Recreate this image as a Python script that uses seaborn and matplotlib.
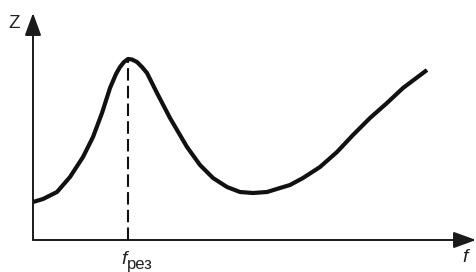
import matplotlib
matplotlib.use("Agg")
import matplotlib.pyplot as plt
import seaborn as sns
import pandas as pd

sns.set_theme(style="white")
plt.rcParams['font.family'] = ['Liberation Sans', 'DejaVu Sans']

# curve (frequency f, impedance Z) in arbitrary units
freq = [0, 10, 24, 37, 50, 60, 69, 77, 83, 87, 91, 95, 99, 104, 109, 114, 124, 137,
        154, 167, 180, 194, 207, 220, 234, 247, 257, 270, 287, 304, 320, 337, 354, 370, 394]
imped = [38, 41, 48, 63, 83, 103, 127, 152, 166, 173, 178, 181, 180.5, 178, 173, 167, 147, 122,
         93, 75, 62, 53, 48, 47, 48, 52, 55, 62, 73, 88, 105, 122, 137, 152, 170]
f_res = 95
z_res = 181
x_label = "f"
y_label = "Z"
res_label = "рез"

fig = plt.figure(figsize=(4.76, 2.72), dpi=100)
ax = fig.add_axes([33/476, 32/272, 443/476, 227/272])
ax.set_xlim(0, 443)
ax.set_ylim(0, 227)
ax.axis("off")

df = pd.DataFrame({"f": freq, "Z": imped})
sns.lineplot(data=df, x="f", y="Z", ax=ax, color="#111111", lw=3.0, sort=False,
             solid_joinstyle="round", solid_capstyle="butt")
ax.plot([f_res, f_res], [0, z_res], color="#111111", lw=1.5, ls=(0, (6, 2.5)))

ak = dict(arrowstyle="-|>,head_length=1.15,head_width=0.42", lw=1.4, color="#1a1a1a",
          shrinkA=0, shrinkB=0)
ax.annotate("", xy=(0, 227), xytext=(0, 0), arrowprops=ak, annotation_clip=False)
ax.annotate("", xy=(443, 0), xytext=(0, 0), arrowprops=ak, annotation_clip=False)

ax.text(-18.5, 216.5, y_label, fontsize=13.5, ha="center", va="center", color="#222222")
ax.text(432.5, -22, x_label, fontsize=14, style="italic", ha="center", va="baseline", color="#222222")
ax.text(f_res - 3.5, -24, "f", fontsize=14, style="italic", ha="center", va="baseline", color="#222222")
ax.text(f_res - 1, -29, res_label, fontsize=12, ha="left", va="baseline", color="#222222")

fig.savefig("out.png", dpi=100)
